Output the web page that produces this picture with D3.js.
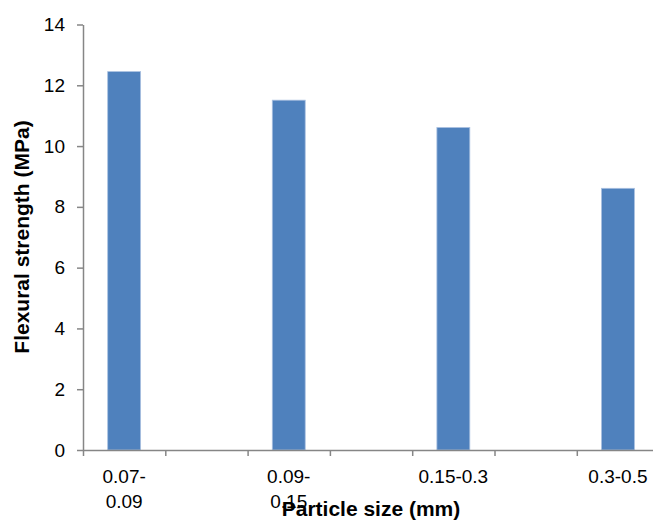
<!DOCTYPE html>
<html>
<head>
<meta charset="utf-8">
<script src="https://cdn.jsdelivr.net/npm/d3@7"></script>
<style>
  html, body { margin: 0; padding: 0; background: #fff; overflow: hidden; }
  svg { display: block; font-family: Arial, "Liberation Sans", sans-serif; }
</style>
</head>
<body>
<svg id="chart" width="653" height="522"></svg>
<script>
// ---- data ----
const categories = ["0.07-0.09", "0.09-0.15", "0.15-0.3", "0.3-0.5"];
// how each category label is broken into lines on the axis
const categoryLabelLines = [["0.07-", "0.09"], ["0.09-", "0.15"], ["0.15-0.3"], ["0.3-0.5"]];
const values = [12.45, 11.51, 10.61, 8.61];
// category slots on the axis (every other slot holds a bar)
const slotCount = 8;
const slotOfCategory = [0, 2, 4, 6];
const yTicks = [0, 2, 4, 6, 8, 10, 12, 14];
const xTitle = "Particle size (mm)";
const yTitle = "Flexural strength (MPa)";

// ---- layout ----
const svg = d3.select("#chart");
const plotLeft = 83, plotBottom = 450, plotTop = 24.5;
const step = 82.3;
const plotRight = plotLeft + slotCount * step;

const x = d3.scaleBand()
  .domain(d3.range(slotCount))
  .range([plotLeft, plotRight])
  .paddingInner(0.6)
  .paddingOuter(0.3);

const xb = d3.scaleLinear().domain([0, slotCount]).range([plotLeft, plotRight]);

const y = d3.scaleLinear().domain([0, 14]).range([plotBottom, plotTop]);

const axisColor = "#868686";

// bars
svg.append("g").selectAll("rect")
  .data(values)
  .join("rect")
  .attr("x", (d, i) => x(slotOfCategory[i]))
  .attr("width", x.bandwidth())
  .attr("y", d => y(d))
  .attr("height", d => y(0) - y(d))
  .attr("fill", "#4F81BD")
  .attr("stroke", "#a9c0e0")
  .attr("stroke-width", 0.8);

// y axis
const yAxis = svg.append("g")
  .attr("transform", `translate(${plotLeft},0)`)
  .call(d3.axisLeft(y).tickValues(yTicks).tickFormat(d3.format("d")).tickSize(6).tickSizeOuter(0).tickPadding(12));
yAxis.attr("font-size", 19).attr("font-family", null);
yAxis.select(".domain").attr("stroke", axisColor).attr("stroke-width", 1.5);
yAxis.selectAll(".tick line").attr("stroke", axisColor).attr("stroke-width", 1.5);
yAxis.selectAll(".tick text").attr("fill", "#000");

// x axis (tick marks at slot boundaries)
const xAxis = svg.append("g")
  .attr("transform", `translate(0,${plotBottom})`)
  .call(d3.axisBottom(xb).tickValues(d3.range(slotCount + 1)).tickFormat("").tickSize(6).tickSizeOuter(0));
xAxis.select(".domain").attr("stroke", axisColor).attr("stroke-width", 1.5);
xAxis.selectAll(".tick line").attr("stroke", axisColor).attr("stroke-width", 1.5);

// x tick labels
const labelG = svg.append("g")
  .attr("font-size", 19)
  .attr("fill", "#000")
  .attr("text-anchor", "middle");
categories.forEach((c, i) => {
  const cx = x(slotOfCategory[i]) + x.bandwidth() / 2;
  const t = labelG.append("text").attr("x", cx).attr("y", 482.5);
  categoryLabelLines[i].forEach((line, j) => {
    t.append("tspan").attr("x", cx).attr("y", 482.5 + j * 25).text(line);
  });
});

// axis titles
svg.append("text")
  .attr("x", 371).attr("y", 516)
  .attr("text-anchor", "middle")
  .attr("font-size", 21).attr("font-weight", "bold")
  .text(xTitle);

svg.append("text")
  .attr("transform", "translate(28.5,237) rotate(-90)")
  .attr("text-anchor", "middle")
  .attr("font-size", 21).attr("font-weight", "bold")
  .text(yTitle);
</script>
</body>
</html>
